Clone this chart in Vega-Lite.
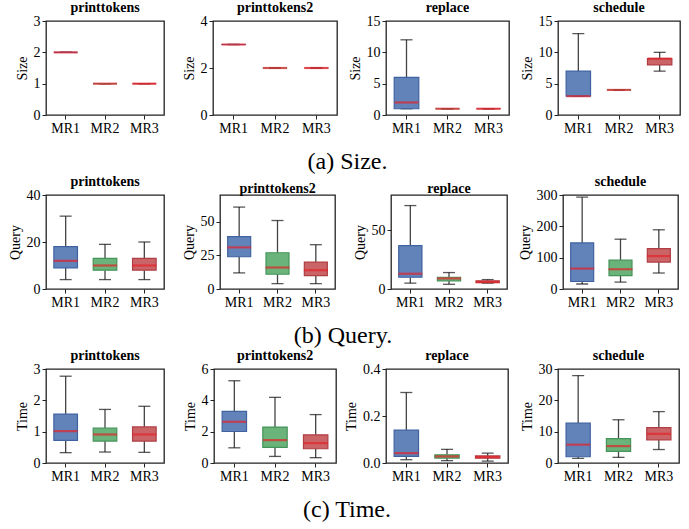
{
"$schema": "https://vega.github.io/schema/vega-lite/v6.json",
"padding": {"left": 7, "top": 0, "right": 12, "bottom": 1},
"background": "white",
"data": {"values": [
{"m":"Size","p":"printtokens","mr":"MR1","lo":2,"q1":2,"med":2,"q3":2,"hi":2},
{"m":"Size","p":"printtokens","mr":"MR2","lo":1,"q1":1,"med":1,"q3":1,"hi":1},
{"m":"Size","p":"printtokens","mr":"MR3","lo":1,"q1":1,"med":1,"q3":1,"hi":1},
{"m":"Size","p":"printtokens2","mr":"MR1","lo":3,"q1":3,"med":3,"q3":3,"hi":3},
{"m":"Size","p":"printtokens2","mr":"MR2","lo":2,"q1":2,"med":2,"q3":2,"hi":2},
{"m":"Size","p":"printtokens2","mr":"MR3","lo":2,"q1":2,"med":2,"q3":2,"hi":2},
{"m":"Size","p":"replace","mr":"MR1","lo":1,"q1":1,"med":2,"q3":6,"hi":12},
{"m":"Size","p":"replace","mr":"MR2","lo":1,"q1":1,"med":1,"q3":1,"hi":1},
{"m":"Size","p":"replace","mr":"MR3","lo":1,"q1":1,"med":1,"q3":1,"hi":1},
{"m":"Size","p":"schedule","mr":"MR1","lo":3,"q1":3,"med":3,"q3":7,"hi":13},
{"m":"Size","p":"schedule","mr":"MR2","lo":4,"q1":4,"med":4,"q3":4,"hi":4},
{"m":"Size","p":"schedule","mr":"MR3","lo":7,"q1":8,"med":9,"q3":9,"hi":10},
{"m":"Query","p":"printtokens","mr":"MR1","lo":4,"q1":9,"med":12,"q3":18,"hi":31},
{"m":"Query","p":"printtokens","mr":"MR2","lo":4,"q1":8,"med":10,"q3":13,"hi":19},
{"m":"Query","p":"printtokens","mr":"MR3","lo":4,"q1":8,"med":10,"q3":13,"hi":20},
{"m":"Query","p":"printtokens2","mr":"MR1","lo":12,"q1":24,"med":31,"q3":39,"hi":61},
{"m":"Query","p":"printtokens2","mr":"MR2","lo":4,"q1":11,"med":16,"q3":27,"hi":51},
{"m":"Query","p":"printtokens2","mr":"MR3","lo":4,"q1":10,"med":14,"q3":20,"hi":33},
{"m":"Query","p":"replace","mr":"MR1","lo":5,"q1":10,"med":13,"q3":37,"hi":71},
{"m":"Query","p":"replace","mr":"MR2","lo":4,"q1":7,"med":9,"q3":10,"hi":14},
{"m":"Query","p":"replace","mr":"MR3","lo":5,"q1":5.5,"med":6,"q3":7,"hi":8},
{"m":"Query","p":"schedule","mr":"MR1","lo":16,"q1":24,"med":65,"q3":147,"hi":293},
{"m":"Query","p":"schedule","mr":"MR2","lo":22,"q1":43,"med":63,"q3":92,"hi":159},
{"m":"Query","p":"schedule","mr":"MR3","lo":51,"q1":86,"med":105,"q3":129,"hi":189},
{"m":"Time","p":"printtokens","mr":"MR1","lo":0.33,"q1":0.72,"med":1.02,"q3":1.56,"hi":2.77},
{"m":"Time","p":"printtokens","mr":"MR2","lo":0.35,"q1":0.7,"med":0.91,"q3":1.11,"hi":1.71},
{"m":"Time","p":"printtokens","mr":"MR3","lo":0.34,"q1":0.7,"med":0.91,"q3":1.15,"hi":1.81},
{"m":"Time","p":"printtokens2","mr":"MR1","lo":0.97,"q1":2.01,"med":2.63,"q3":3.3,"hi":5.25},
{"m":"Time","p":"printtokens2","mr":"MR2","lo":0.42,"q1":1.0,"med":1.46,"q3":2.29,"hi":4.19},
{"m":"Time","p":"printtokens2","mr":"MR3","lo":0.34,"q1":0.91,"med":1.27,"q3":1.8,"hi":3.09},
{"m":"Time","p":"replace","mr":"MR1","lo":0.014,"q1":0.028,"med":0.042,"q3":0.14,"hi":0.3},
{"m":"Time","p":"replace","mr":"MR2","lo":0.01,"q1":0.021,"med":0.028,"q3":0.035,"hi":0.058},
{"m":"Time","p":"replace","mr":"MR3","lo":0.008,"q1":0.021,"med":0.025,"q3":0.03,"hi":0.042},
{"m":"Time","p":"schedule","mr":"MR1","lo":1.5,"q1":2.0,"med":5.85,"q3":12.7,"hi":27.9},
{"m":"Time","p":"schedule","mr":"MR2","lo":1.8,"q1":3.7,"med":5.4,"q3":7.8,"hi":13.8},
{"m":"Time","p":"schedule","mr":"MR3","lo":4.3,"q1":7.4,"med":9.3,"q3":11.3,"hi":16.4}
]},
"vconcat": [
{"title": {"text": "(a) Size.", "orient": "bottom", "anchor": "middle", "fontSize": 24, "fontWeight": "normal", "offset": 14},
 "spacing": 49, "bounds": "flush",
 "hconcat": [
  {"width": 118, "height": 94, "title": {"text": "printtokens"},
   "transform": [{"filter": "datum.m === 'Size' && datum.p === 'printtokens'"}],
   "encoding": {"x": {"field": "mr", "type": "nominal", "title": null, "scale": {"domain": ["MR1","MR2","MR3"], "paddingInner": 0, "paddingOuter": 0}, "axis": {"bandPosition": 0.5}}},
   "layer": [
    {"mark": "rule", "encoding": {"y": {"field": "lo", "type": "quantitative", "title": "Size", "scale": {"domain": [0,3], "nice": false}, "axis": {"values": [0,1,2,3], "labelOverlap": false, "tickCount": 4}}, "y2": {"field": "q1"}}},
    {"mark": "rule", "encoding": {"y": {"field": "q3", "type": "quantitative", "title": "Size"}, "y2": {"field": "hi"}}},
    {"mark": {"type": "tick", "size": 12, "thickness": 1.3, "color": "#111"}, "encoding": {"y": {"field": "lo", "type": "quantitative", "title": "Size"}}},
    {"mark": {"type": "tick", "size": 12, "thickness": 1.3, "color": "#111"}, "encoding": {"y": {"field": "hi", "type": "quantitative", "title": "Size"}}},
    {"mark": {"type": "bar", "width": {"band": 0.6}, "fillOpacity": 0.88, "strokeWidth": 1.2}, "encoding": {"y": {"field": "q1", "type": "quantitative", "title": "Size"}, "y2": {"field": "q3"}, "fill": {"field": "mr", "type": "nominal", "scale": {"domain": ["MR1","MR2","MR3"], "range": ["#4C72B0","#55A868","#C44E52"]}, "legend": null}, "stroke": {"field": "mr", "type": "nominal", "scale": {"domain": ["MR1","MR2","MR3"], "range": ["#3F63A0","#45945A","#B03E45"]}, "legend": null}}},
    {"mark": {"type": "tick", "size": 24, "thickness": 2.2, "color": "#E3242B"}, "encoding": {"y": {"field": "med", "type": "quantitative", "title": "Size"}}}
   ]},
  {"width": 124, "height": 94, "title": {"text": "printtokens2"},
   "transform": [{"filter": "datum.m === 'Size' && datum.p === 'printtokens2'"}],
   "encoding": {"x": {"field": "mr", "type": "nominal", "title": null, "scale": {"domain": ["MR1","MR2","MR3"], "paddingInner": 0, "paddingOuter": 0}, "axis": {"bandPosition": 0.5}}},
   "layer": [
    {"mark": "rule", "encoding": {"y": {"field": "lo", "type": "quantitative", "title": "Size", "scale": {"domain": [0,4], "nice": false}, "axis": {"values": [0,2,4], "labelOverlap": false}}, "y2": {"field": "q1"}}},
    {"mark": "rule", "encoding": {"y": {"field": "q3", "type": "quantitative", "title": "Size"}, "y2": {"field": "hi"}}},
    {"mark": {"type": "tick", "size": 12, "thickness": 1.3, "color": "#111"}, "encoding": {"y": {"field": "lo", "type": "quantitative", "title": "Size"}}},
    {"mark": {"type": "tick", "size": 12, "thickness": 1.3, "color": "#111"}, "encoding": {"y": {"field": "hi", "type": "quantitative", "title": "Size"}}},
    {"mark": {"type": "bar", "width": {"band": 0.6}, "fillOpacity": 0.88, "strokeWidth": 1.2}, "encoding": {"y": {"field": "q1", "type": "quantitative", "title": "Size"}, "y2": {"field": "q3"}, "fill": {"field": "mr", "type": "nominal", "scale": {"domain": ["MR1","MR2","MR3"], "range": ["#4C72B0","#55A868","#C44E52"]}, "legend": null}, "stroke": {"field": "mr", "type": "nominal", "scale": {"domain": ["MR1","MR2","MR3"], "range": ["#3F63A0","#45945A","#B03E45"]}, "legend": null}}},
    {"mark": {"type": "tick", "size": 24, "thickness": 2.2, "color": "#E3242B"}, "encoding": {"y": {"field": "med", "type": "quantitative", "title": "Size"}}}
   ]},
  {"width": 123, "height": 94, "title": {"text": "replace"},
   "transform": [{"filter": "datum.m === 'Size' && datum.p === 'replace'"}],
   "encoding": {"x": {"field": "mr", "type": "nominal", "title": null, "scale": {"domain": ["MR1","MR2","MR3"], "paddingInner": 0, "paddingOuter": 0}, "axis": {"bandPosition": 0.5}}},
   "layer": [
    {"mark": "rule", "encoding": {"y": {"field": "lo", "type": "quantitative", "title": "Size", "scale": {"domain": [0,15], "nice": false}, "axis": {"values": [0,5,10,15], "labelOverlap": false, "tickCount": 4}}, "y2": {"field": "q1"}}},
    {"mark": "rule", "encoding": {"y": {"field": "q3", "type": "quantitative", "title": "Size"}, "y2": {"field": "hi"}}},
    {"mark": {"type": "tick", "size": 12, "thickness": 1.3, "color": "#111"}, "encoding": {"y": {"field": "lo", "type": "quantitative", "title": "Size"}}},
    {"mark": {"type": "tick", "size": 12, "thickness": 1.3, "color": "#111"}, "encoding": {"y": {"field": "hi", "type": "quantitative", "title": "Size"}}},
    {"mark": {"type": "bar", "width": {"band": 0.6}, "fillOpacity": 0.88, "strokeWidth": 1.2}, "encoding": {"y": {"field": "q1", "type": "quantitative", "title": "Size"}, "y2": {"field": "q3"}, "fill": {"field": "mr", "type": "nominal", "scale": {"domain": ["MR1","MR2","MR3"], "range": ["#4C72B0","#55A868","#C44E52"]}, "legend": null}, "stroke": {"field": "mr", "type": "nominal", "scale": {"domain": ["MR1","MR2","MR3"], "range": ["#3F63A0","#45945A","#B03E45"]}, "legend": null}}},
    {"mark": {"type": "tick", "size": 24, "thickness": 2.2, "color": "#E3242B"}, "encoding": {"y": {"field": "med", "type": "quantitative", "title": "Size"}}}
   ]},
  {"width": 122, "height": 94, "title": {"text": "schedule"},
   "transform": [{"filter": "datum.m === 'Size' && datum.p === 'schedule'"}],
   "encoding": {"x": {"field": "mr", "type": "nominal", "title": null, "scale": {"domain": ["MR1","MR2","MR3"], "paddingInner": 0, "paddingOuter": 0}, "axis": {"bandPosition": 0.5}}},
   "layer": [
    {"mark": "rule", "encoding": {"y": {"field": "lo", "type": "quantitative", "title": "Size", "scale": {"domain": [0,15], "nice": false}, "axis": {"values": [0,5,10,15], "labelOverlap": false, "tickCount": 4}}, "y2": {"field": "q1"}}},
    {"mark": "rule", "encoding": {"y": {"field": "q3", "type": "quantitative", "title": "Size"}, "y2": {"field": "hi"}}},
    {"mark": {"type": "tick", "size": 12, "thickness": 1.3, "color": "#111"}, "encoding": {"y": {"field": "lo", "type": "quantitative", "title": "Size"}}},
    {"mark": {"type": "tick", "size": 12, "thickness": 1.3, "color": "#111"}, "encoding": {"y": {"field": "hi", "type": "quantitative", "title": "Size"}}},
    {"mark": {"type": "bar", "width": {"band": 0.6}, "fillOpacity": 0.88, "strokeWidth": 1.2}, "encoding": {"y": {"field": "q1", "type": "quantitative", "title": "Size"}, "y2": {"field": "q3"}, "fill": {"field": "mr", "type": "nominal", "scale": {"domain": ["MR1","MR2","MR3"], "range": ["#4C72B0","#55A868","#C44E52"]}, "legend": null}, "stroke": {"field": "mr", "type": "nominal", "scale": {"domain": ["MR1","MR2","MR3"], "range": ["#3F63A0","#45945A","#B03E45"]}, "legend": null}}},
    {"mark": {"type": "tick", "size": 24, "thickness": 2.2, "color": "#E3242B"}, "encoding": {"y": {"field": "med", "type": "quantitative", "title": "Size"}}}
   ]}
 ]},
{"title": {"text": "(b) Query.", "orient": "bottom", "anchor": "middle", "fontSize": 24, "fontWeight": "normal", "offset": 14},
 "spacing": 56, "bounds": "flush",
 "hconcat": [
  {"width": 118, "height": 94, "title": {"text": "printtokens"},
   "transform": [{"filter": "datum.m === 'Query' && datum.p === 'printtokens'"}],
   "encoding": {"x": {"field": "mr", "type": "nominal", "title": null, "scale": {"domain": ["MR1","MR2","MR3"], "paddingInner": 0, "paddingOuter": 0}, "axis": {"bandPosition": 0.5}}},
   "layer": [
    {"mark": "rule", "encoding": {"y": {"field": "lo", "type": "quantitative", "title": "Query", "scale": {"domain": [0,40], "nice": false}, "axis": {"values": [0,20,40], "labelOverlap": false, "tickCount": 3}}, "y2": {"field": "q1"}}},
    {"mark": "rule", "encoding": {"y": {"field": "q3", "type": "quantitative", "title": "Query"}, "y2": {"field": "hi"}}},
    {"mark": {"type": "tick", "size": 12, "thickness": 1.3, "color": "#111"}, "encoding": {"y": {"field": "lo", "type": "quantitative", "title": "Query"}}},
    {"mark": {"type": "tick", "size": 12, "thickness": 1.3, "color": "#111"}, "encoding": {"y": {"field": "hi", "type": "quantitative", "title": "Query"}}},
    {"mark": {"type": "bar", "width": {"band": 0.6}, "fillOpacity": 0.88, "strokeWidth": 1.2}, "encoding": {"y": {"field": "q1", "type": "quantitative", "title": "Query"}, "y2": {"field": "q3"}, "fill": {"field": "mr", "type": "nominal", "scale": {"domain": ["MR1","MR2","MR3"], "range": ["#4C72B0","#55A868","#C44E52"]}, "legend": null}, "stroke": {"field": "mr", "type": "nominal", "scale": {"domain": ["MR1","MR2","MR3"], "range": ["#3F63A0","#45945A","#B03E45"]}, "legend": null}}},
    {"mark": {"type": "tick", "size": 24, "thickness": 2.2, "color": "#E3242B"}, "encoding": {"y": {"field": "med", "type": "quantitative", "title": "Query"}}}
   ]},
  {"width": 115, "height": 94, "title": {"text": "printtokens2"},
   "transform": [{"filter": "datum.m === 'Query' && datum.p === 'printtokens2'"}],
   "encoding": {"x": {"field": "mr", "type": "nominal", "title": null, "scale": {"domain": ["MR1","MR2","MR3"], "paddingInner": 0, "paddingOuter": 0}, "axis": {"bandPosition": 0.5}}},
   "layer": [
    {"mark": "rule", "encoding": {"y": {"field": "lo", "type": "quantitative", "title": "Query", "scale": {"domain": [0,70], "nice": false}, "axis": {"values": [0,25,50], "labelOverlap": false}}, "y2": {"field": "q1"}}},
    {"mark": "rule", "encoding": {"y": {"field": "q3", "type": "quantitative", "title": "Query"}, "y2": {"field": "hi"}}},
    {"mark": {"type": "tick", "size": 12, "thickness": 1.3, "color": "#111"}, "encoding": {"y": {"field": "lo", "type": "quantitative", "title": "Query"}}},
    {"mark": {"type": "tick", "size": 12, "thickness": 1.3, "color": "#111"}, "encoding": {"y": {"field": "hi", "type": "quantitative", "title": "Query"}}},
    {"mark": {"type": "bar", "width": {"band": 0.6}, "fillOpacity": 0.88, "strokeWidth": 1.2}, "encoding": {"y": {"field": "q1", "type": "quantitative", "title": "Query"}, "y2": {"field": "q3"}, "fill": {"field": "mr", "type": "nominal", "scale": {"domain": ["MR1","MR2","MR3"], "range": ["#4C72B0","#55A868","#C44E52"]}, "legend": null}, "stroke": {"field": "mr", "type": "nominal", "scale": {"domain": ["MR1","MR2","MR3"], "range": ["#3F63A0","#45945A","#B03E45"]}, "legend": null}}},
    {"mark": {"type": "tick", "size": 24, "thickness": 2.2, "color": "#E3242B"}, "encoding": {"y": {"field": "med", "type": "quantitative", "title": "Query"}}}
   ]},
  {"width": 116, "height": 94, "title": {"text": "replace"},
   "transform": [{"filter": "datum.m === 'Query' && datum.p === 'replace'"}],
   "encoding": {"x": {"field": "mr", "type": "nominal", "title": null, "scale": {"domain": ["MR1","MR2","MR3"], "paddingInner": 0, "paddingOuter": 0}, "axis": {"bandPosition": 0.5}}},
   "layer": [
    {"mark": "rule", "encoding": {"y": {"field": "lo", "type": "quantitative", "title": "Query", "scale": {"domain": [0,80], "nice": false}, "axis": {"values": [0,50], "labelOverlap": false}}, "y2": {"field": "q1"}}},
    {"mark": "rule", "encoding": {"y": {"field": "q3", "type": "quantitative", "title": "Query"}, "y2": {"field": "hi"}}},
    {"mark": {"type": "tick", "size": 12, "thickness": 1.3, "color": "#111"}, "encoding": {"y": {"field": "lo", "type": "quantitative", "title": "Query"}}},
    {"mark": {"type": "tick", "size": 12, "thickness": 1.3, "color": "#111"}, "encoding": {"y": {"field": "hi", "type": "quantitative", "title": "Query"}}},
    {"mark": {"type": "bar", "width": {"band": 0.6}, "fillOpacity": 0.88, "strokeWidth": 1.2}, "encoding": {"y": {"field": "q1", "type": "quantitative", "title": "Query"}, "y2": {"field": "q3"}, "fill": {"field": "mr", "type": "nominal", "scale": {"domain": ["MR1","MR2","MR3"], "range": ["#4C72B0","#55A868","#C44E52"]}, "legend": null}, "stroke": {"field": "mr", "type": "nominal", "scale": {"domain": ["MR1","MR2","MR3"], "range": ["#3F63A0","#45945A","#B03E45"]}, "legend": null}}},
    {"mark": {"type": "tick", "size": 24, "thickness": 2.2, "color": "#E3242B"}, "encoding": {"y": {"field": "med", "type": "quantitative", "title": "Query"}}}
   ]},
  {"width": 115, "height": 94, "title": {"text": "schedule"},
   "transform": [{"filter": "datum.m === 'Query' && datum.p === 'schedule'"}],
   "encoding": {"x": {"field": "mr", "type": "nominal", "title": null, "scale": {"domain": ["MR1","MR2","MR3"], "paddingInner": 0, "paddingOuter": 0}, "axis": {"bandPosition": 0.5}}},
   "layer": [
    {"mark": "rule", "encoding": {"y": {"field": "lo", "type": "quantitative", "title": "Query", "scale": {"domain": [0,300], "nice": false}, "axis": {"values": [0,100,200,300], "labelOverlap": false, "tickCount": 4}}, "y2": {"field": "q1"}}},
    {"mark": "rule", "encoding": {"y": {"field": "q3", "type": "quantitative", "title": "Query"}, "y2": {"field": "hi"}}},
    {"mark": {"type": "tick", "size": 12, "thickness": 1.3, "color": "#111"}, "encoding": {"y": {"field": "lo", "type": "quantitative", "title": "Query"}}},
    {"mark": {"type": "tick", "size": 12, "thickness": 1.3, "color": "#111"}, "encoding": {"y": {"field": "hi", "type": "quantitative", "title": "Query"}}},
    {"mark": {"type": "bar", "width": {"band": 0.6}, "fillOpacity": 0.88, "strokeWidth": 1.2}, "encoding": {"y": {"field": "q1", "type": "quantitative", "title": "Query"}, "y2": {"field": "q3"}, "fill": {"field": "mr", "type": "nominal", "scale": {"domain": ["MR1","MR2","MR3"], "range": ["#4C72B0","#55A868","#C44E52"]}, "legend": null}, "stroke": {"field": "mr", "type": "nominal", "scale": {"domain": ["MR1","MR2","MR3"], "range": ["#3F63A0","#45945A","#B03E45"]}, "legend": null}}},
    {"mark": {"type": "tick", "size": 24, "thickness": 2.2, "color": "#E3242B"}, "encoding": {"y": {"field": "med", "type": "quantitative", "title": "Query"}}}
   ]}
 ]},
{"title": {"text": "(c) Time.", "orient": "bottom", "anchor": "middle", "fontSize": 24, "fontWeight": "normal", "offset": 14},
 "spacing": 50, "bounds": "flush",
 "hconcat": [
  {"width": 118, "height": 94, "title": {"text": "printtokens"},
   "transform": [{"filter": "datum.m === 'Time' && datum.p === 'printtokens'"}],
   "encoding": {"x": {"field": "mr", "type": "nominal", "title": null, "scale": {"domain": ["MR1","MR2","MR3"], "paddingInner": 0, "paddingOuter": 0}, "axis": {"bandPosition": 0.5}}},
   "layer": [
    {"mark": "rule", "encoding": {"y": {"field": "lo", "type": "quantitative", "title": "Time", "scale": {"domain": [0,3], "nice": false}, "axis": {"values": [0,1,2,3], "labelOverlap": false, "tickCount": 4}}, "y2": {"field": "q1"}}},
    {"mark": "rule", "encoding": {"y": {"field": "q3", "type": "quantitative", "title": "Time"}, "y2": {"field": "hi"}}},
    {"mark": {"type": "tick", "size": 12, "thickness": 1.3, "color": "#111"}, "encoding": {"y": {"field": "lo", "type": "quantitative", "title": "Time"}}},
    {"mark": {"type": "tick", "size": 12, "thickness": 1.3, "color": "#111"}, "encoding": {"y": {"field": "hi", "type": "quantitative", "title": "Time"}}},
    {"mark": {"type": "bar", "width": {"band": 0.6}, "fillOpacity": 0.88, "strokeWidth": 1.2}, "encoding": {"y": {"field": "q1", "type": "quantitative", "title": "Time"}, "y2": {"field": "q3"}, "fill": {"field": "mr", "type": "nominal", "scale": {"domain": ["MR1","MR2","MR3"], "range": ["#4C72B0","#55A868","#C44E52"]}, "legend": null}, "stroke": {"field": "mr", "type": "nominal", "scale": {"domain": ["MR1","MR2","MR3"], "range": ["#3F63A0","#45945A","#B03E45"]}, "legend": null}}},
    {"mark": {"type": "tick", "size": 24, "thickness": 2.2, "color": "#E3242B"}, "encoding": {"y": {"field": "med", "type": "quantitative", "title": "Time"}}}
   ]},
  {"width": 122, "height": 94, "title": {"text": "printtokens2"},
   "transform": [{"filter": "datum.m === 'Time' && datum.p === 'printtokens2'"}],
   "encoding": {"x": {"field": "mr", "type": "nominal", "title": null, "scale": {"domain": ["MR1","MR2","MR3"], "paddingInner": 0, "paddingOuter": 0}, "axis": {"bandPosition": 0.5}}},
   "layer": [
    {"mark": "rule", "encoding": {"y": {"field": "lo", "type": "quantitative", "title": "Time", "scale": {"domain": [0,6], "nice": false}, "axis": {"values": [0,2,4,6], "labelOverlap": false, "tickCount": 4}}, "y2": {"field": "q1"}}},
    {"mark": "rule", "encoding": {"y": {"field": "q3", "type": "quantitative", "title": "Time"}, "y2": {"field": "hi"}}},
    {"mark": {"type": "tick", "size": 12, "thickness": 1.3, "color": "#111"}, "encoding": {"y": {"field": "lo", "type": "quantitative", "title": "Time"}}},
    {"mark": {"type": "tick", "size": 12, "thickness": 1.3, "color": "#111"}, "encoding": {"y": {"field": "hi", "type": "quantitative", "title": "Time"}}},
    {"mark": {"type": "bar", "width": {"band": 0.6}, "fillOpacity": 0.88, "strokeWidth": 1.2}, "encoding": {"y": {"field": "q1", "type": "quantitative", "title": "Time"}, "y2": {"field": "q3"}, "fill": {"field": "mr", "type": "nominal", "scale": {"domain": ["MR1","MR2","MR3"], "range": ["#4C72B0","#55A868","#C44E52"]}, "legend": null}, "stroke": {"field": "mr", "type": "nominal", "scale": {"domain": ["MR1","MR2","MR3"], "range": ["#3F63A0","#45945A","#B03E45"]}, "legend": null}}},
    {"mark": {"type": "tick", "size": 24, "thickness": 2.2, "color": "#E3242B"}, "encoding": {"y": {"field": "med", "type": "quantitative", "title": "Time"}}}
   ]},
  {"width": 122, "height": 94, "title": {"text": "replace"},
   "transform": [{"filter": "datum.m === 'Time' && datum.p === 'replace'"}],
   "encoding": {"x": {"field": "mr", "type": "nominal", "title": null, "scale": {"domain": ["MR1","MR2","MR3"], "paddingInner": 0, "paddingOuter": 0}, "axis": {"bandPosition": 0.5}}},
   "layer": [
    {"mark": "rule", "encoding": {"y": {"field": "lo", "type": "quantitative", "title": "Time", "scale": {"domain": [0,0.4], "nice": false}, "axis": {"values": [0,0.2,0.4], "format": ".1f", "labelOverlap": false}}, "y2": {"field": "q1"}}},
    {"mark": "rule", "encoding": {"y": {"field": "q3", "type": "quantitative", "title": "Time"}, "y2": {"field": "hi"}}},
    {"mark": {"type": "tick", "size": 12, "thickness": 1.3, "color": "#111"}, "encoding": {"y": {"field": "lo", "type": "quantitative", "title": "Time"}}},
    {"mark": {"type": "tick", "size": 12, "thickness": 1.3, "color": "#111"}, "encoding": {"y": {"field": "hi", "type": "quantitative", "title": "Time"}}},
    {"mark": {"type": "bar", "width": {"band": 0.6}, "fillOpacity": 0.88, "strokeWidth": 1.2}, "encoding": {"y": {"field": "q1", "type": "quantitative", "title": "Time"}, "y2": {"field": "q3"}, "fill": {"field": "mr", "type": "nominal", "scale": {"domain": ["MR1","MR2","MR3"], "range": ["#4C72B0","#55A868","#C44E52"]}, "legend": null}, "stroke": {"field": "mr", "type": "nominal", "scale": {"domain": ["MR1","MR2","MR3"], "range": ["#3F63A0","#45945A","#B03E45"]}, "legend": null}}},
    {"mark": {"type": "tick", "size": 24, "thickness": 2.2, "color": "#E3242B"}, "encoding": {"y": {"field": "med", "type": "quantitative", "title": "Time"}}}
   ]},
  {"width": 121, "height": 94, "title": {"text": "schedule"},
   "transform": [{"filter": "datum.m === 'Time' && datum.p === 'schedule'"}],
   "encoding": {"x": {"field": "mr", "type": "nominal", "title": null, "scale": {"domain": ["MR1","MR2","MR3"], "paddingInner": 0, "paddingOuter": 0}, "axis": {"bandPosition": 0.5}}},
   "layer": [
    {"mark": "rule", "encoding": {"y": {"field": "lo", "type": "quantitative", "title": "Time", "scale": {"domain": [0,30], "nice": false}, "axis": {"values": [0,10,20,30], "labelOverlap": false, "tickCount": 4}}, "y2": {"field": "q1"}}},
    {"mark": "rule", "encoding": {"y": {"field": "q3", "type": "quantitative", "title": "Time"}, "y2": {"field": "hi"}}},
    {"mark": {"type": "tick", "size": 12, "thickness": 1.3, "color": "#111"}, "encoding": {"y": {"field": "lo", "type": "quantitative", "title": "Time"}}},
    {"mark": {"type": "tick", "size": 12, "thickness": 1.3, "color": "#111"}, "encoding": {"y": {"field": "hi", "type": "quantitative", "title": "Time"}}},
    {"mark": {"type": "bar", "width": {"band": 0.6}, "fillOpacity": 0.88, "strokeWidth": 1.2}, "encoding": {"y": {"field": "q1", "type": "quantitative", "title": "Time"}, "y2": {"field": "q3"}, "fill": {"field": "mr", "type": "nominal", "scale": {"domain": ["MR1","MR2","MR3"], "range": ["#4C72B0","#55A868","#C44E52"]}, "legend": null}, "stroke": {"field": "mr", "type": "nominal", "scale": {"domain": ["MR1","MR2","MR3"], "range": ["#3F63A0","#45945A","#B03E45"]}, "legend": null}}},
    {"mark": {"type": "tick", "size": 24, "thickness": 2.2, "color": "#E3242B"}, "encoding": {"y": {"field": "med", "type": "quantitative", "title": "Time"}}}
   ]}
 ]}
],
"spacing": 0,
"config": {
 "font": "Liberation Serif",
 "view": {"stroke": "#222", "strokeWidth": 1.3},
 "axis": {"labelFont": "Liberation Serif", "titleFont": "Liberation Serif", "labelFontSize": 14, "titleFontSize": 14, "titleFontWeight": "normal", "labelColor": "black", "titleColor": "black", "tickColor": "#222", "domain": false, "grid": false, "tickSize": 4, "labelPadding": 2, "titlePadding": 4, "labelOverlap": false},
 "axisX": {"labelAngle": 0},
 "rule": {"color": "#444", "strokeWidth": 1.3},
 "title": {"font": "Liberation Serif", "fontSize": 14, "fontWeight": "bold", "color": "black", "offset": -1}
}
}
